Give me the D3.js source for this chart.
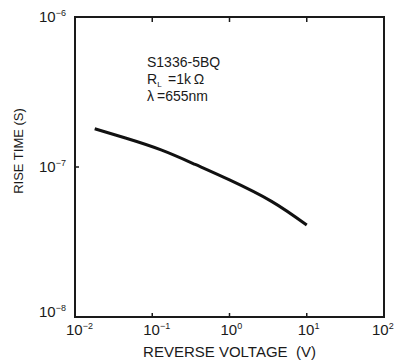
<!DOCTYPE html>
<html>
<head>
<meta charset="utf-8">
<script src="https://cdn.jsdelivr.net/npm/d3@7"></script>
<style>
  body { margin: 0; background: #fff; }
  text { font-family: "Liberation Sans", Arial, sans-serif; fill: #1a1a1a; }
</style>
</head>
<body>
<div id="chart"></div>
<script>
// reverse voltage (V) and rise time (s)
var voltage = [0.018, 0.045, 0.13, 0.36, 1.0, 3.5, 10];
var riseTime = [1.8e-7, 1.56e-7, 1.3e-7, 1.04e-7, 8.2e-8, 5.9e-8, 4.1e-8];

var xTicks = [1e-2, 1e-1, 1e0, 1e1, 1e2];
var xTickExp = ["\u22122", "\u22121", "0", "1", "2"];
var yTicks = [1e-8, 1e-7, 1e-6];
var yTickExp = ["\u22128", "\u22127", "\u22126"];

var W = 395, H = 364;
var margin = { left: 75, right: 11, top: 17, bottom: 47 };

var svg = d3.select("#chart").append("svg")
	.attr("width", W)
	.attr("height", H);

var x = d3.scaleLog().domain([1e-2, 1e2]).range([margin.left, W - margin.right]);
var y = d3.scaleLog().domain([1e-8, 1e-6]).range([H - margin.bottom, margin.top]);

// frame
svg.append("rect")
	.attr("x", x(1e-2))
	.attr("y", y(1e-6))
	.attr("width", x(1e2) - x(1e-2))
	.attr("height", y(1e-8) - y(1e-6))
	.style("fill", "none")
	.style("stroke", "#1a1a1a")
	.style("stroke-width", 2);

// inward ticks, bottom and top
var inner = xTicks.slice(1, -1);
svg.selectAll(".tb").data(inner).enter().append("line")
	.attr("x1", function(d) { return x(d); })
	.attr("x2", function(d) { return x(d); })
	.attr("y1", y(1e-8))
	.attr("y2", y(1e-8) - 4)
	.style("stroke", "#1a1a1a").style("stroke-width", 1.5);
svg.selectAll(".tt").data(inner).enter().append("line")
	.attr("x1", function(d) { return x(d); })
	.attr("x2", function(d) { return x(d); })
	.attr("y1", y(1e-6))
	.attr("y2", y(1e-6) + 5)
	.style("stroke", "#1a1a1a").style("stroke-width", 1.5);
svg.append("line")
	.attr("x1", x(1e-2)).attr("x2", x(1e-2) + 4)
	.attr("y1", y(1e-7)).attr("y2", y(1e-7))
	.style("stroke", "#1a1a1a").style("stroke-width", 1.5);

// x tick labels
var xl = svg.selectAll(".xl").data(xTicks).enter().append("text")
	.attr("x", function(d, i) { return x(d) - (i === xTicks.length - 1 ? 12 : 9); })
	.attr("y", 335)
	.style("font-size", "15px");
xl.append("tspan").text("10");
xl.append("tspan")
	.attr("dy", -6)
	.style("font-size", "9px")
	.text(function(d, i) { return xTickExp[i]; });

// y tick labels
var yl = svg.selectAll(".yl").data(yTicks).enter().append("text")
	.attr("x", 39)
	.attr("y", function(d, i) { return y(d) + (i === 0 ? 0 : 5); })
	.style("font-size", "15px");
yl.append("tspan").text("10");
yl.append("tspan")
	.attr("dy", -6)
	.style("font-size", "9px")
	.text(function(d, i) { return yTickExp[i]; });

// axis titles
svg.append("text")
	.attr("x", (x(1e-2) + x(1e2)) / 2)
	.attr("y", 357)
	.attr("text-anchor", "middle")
	.style("font-size", "15px")
	.style("white-space", "pre")
	.text("REVERSE VOLTAGE  (V)");

svg.append("text")
	.attr("transform", "translate(23,151) rotate(-90)")
	.attr("text-anchor", "middle")
	.style("font-size", "13px")
	.text("RISE TIME (S)");

// curve
var line = d3.line()
	.x(function(d) { return x(d[0]); })
	.y(function(d) { return y(d[1]); })
	.curve(d3.curveNatural);

svg.append("path")
	.datum(d3.zip(voltage, riseTime))
	.attr("d", line)
	.style("fill", "none")
	.style("stroke", "#111")
	.style("stroke-width", 3);

// annotation
var ann = svg.append("g").style("font-size", "14px");
ann.append("text").attr("x", 147).attr("y", 67).text("S1336-5BQ");
var r = ann.append("text").attr("x", 147).attr("y", 84);
r.append("tspan").text("R");
r.append("tspan").attr("dy", 3).style("font-size", "8px").text("L");
r.append("tspan").attr("x", 168).attr("dy", -3).text("=1k\u2009\u03A9");
var lam = ann.append("text").attr("x", 147).attr("y", 101);
lam.append("tspan").text("\u03BB");
lam.append("tspan").attr("x", 157).text("=655nm");
</script>
</body>
</html>
